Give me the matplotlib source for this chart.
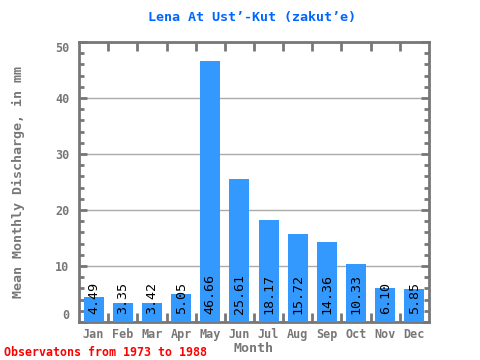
import matplotlib
matplotlib.use("Agg")
import matplotlib.pyplot as plt
from matplotlib.ticker import MultipleLocator

months = ["Jan", "Feb", "Mar", "Apr", "May", "Jun", "Jul", "Aug", "Sep", "Oct", "Nov", "Dec"]
values = [4.49, 3.35, 3.42, 5.05, 46.66, 25.61, 18.17, 15.72, 14.36, 10.33, 6.10, 5.85]
labels = ["4.49", "3.35", "3.42", "5.05", "46.66", "25.61", "18.17", "15.72", "14.36", "10.33", "6.10", "5.85"]
yticks = [0, 10, 20, 30, 40, 50]

mono = "DejaVu Sans Mono"
gray = "#777777"
spine = "#777777"
fig = plt.figure(figsize=(4.8, 3.6), dpi=100)
ax = fig.add_axes([79/480, 1-322/360, 350/480, 280/360])
x = list(range(len(months)))
ax.bar(x, values, width=0.69, color="#3399ff", zorder=3)
for xi, lab in zip(x, labels):
    ax.text(xi, 1.4, lab, rotation=90, ha="center", va="bottom", fontsize=9.6,
            family=mono, color="black", zorder=4)
ax.set_xlim(-0.5, 11.5)
ax.set_ylim(0, 50)
ax.set_yticks(yticks)
ax.set_yticklabels([str(v) for v in yticks])
ax.yaxis.set_minor_locator(MultipleLocator(2))
ax.grid(axis="y", which="major", color="#aaaaaa", linewidth=1, zorder=1)
ax.set_xticks(x)
ax.set_xticklabels(months)
ax.set_xticks([i + 0.5 for i in range(0, 11)], minor=True)
ax.tick_params(axis="x", which="major", length=0, pad=4)
ax.tick_params(axis="x", which="minor", length=6.5, width=2, color=spine, direction="in", top=True, bottom=True)
ax.tick_params(axis="y", which="both", direction="in", right=True, left=True, color=spine, width=2)
ax.tick_params(axis="y", which="major", length=6, pad=7)
ax.tick_params(axis="y", which="minor", length=3.6)
for t in ax.get_xticklabels() + ax.get_yticklabels():
    t.set_family(mono)
    t.set_fontweight("bold")
    t.set_color(gray)
    t.set_fontsize(8.5)
ylabs = ax.get_yticklabels()
ylabs[0].set_va("bottom")
ylabs[-1].set_va("top")
for s in ax.spines.values():
    s.set_color(spine)
    s.set_linewidth(2)
ax.set_xlabel("Month", family=mono, fontweight="bold", color=gray, fontsize=9.6, labelpad=1)
ax.set_ylabel("Mean Monthly Discharge, in mm", family=mono, fontweight="bold", color=gray, fontsize=9.6)
ax.yaxis.set_label_coords((18 - 79) / 350, 0.5)
ax.yaxis.label.set_va("center")
fig.text(252/480, 1-17/360, "Lena At Ust’-Kut (zakut’e)", ha="center", va="center",
         family=mono, fontweight="bold", color="#0066ff", fontsize=9.6)
fig.text(4/480, 1-352/360, "Observatons from 1973 to 1988", ha="left", va="center",
         family=mono, fontweight="bold", color="red", fontsize=8.4)
fig.savefig("out.png", dpi=100)
